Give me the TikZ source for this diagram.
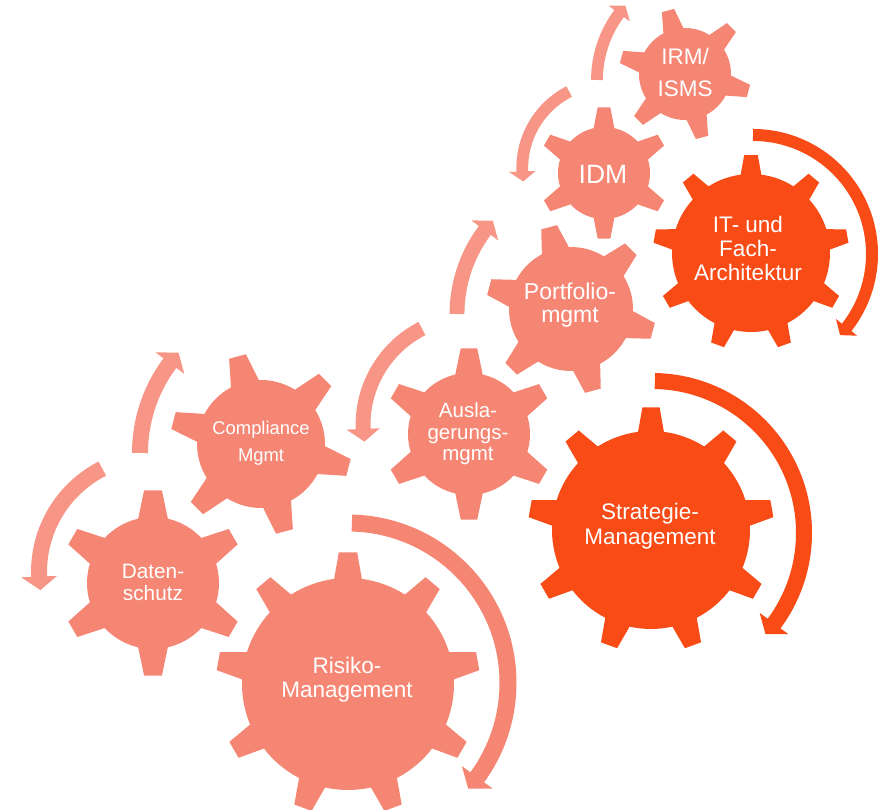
\documentclass[tikz,border=0pt]{standalone}
\usepackage{fontspec}
\setmainfont{Liberation Sans}
\definecolor{salmon}{RGB}{246,134,116}
\definecolor{arrowpink}{RGB}{247,150,134}
\definecolor{deeporange}{RGB}{248,75,22}

% gear: cx, cy, body radius, tip radius, teeth, first tooth angle, tip half-angle, base half-angle, colour
\newcommand{\gearshape}[9]{%
  \begin{scope}[shift={(#1,#2)}]
    \pgfmathsetmacro{\gstep}{360/#5}
    \pgfmathtruncatemacro{\glast}{#5-1}
    \fill[#9] ({#6-#8}:#3pt)
      \foreach \k in {0,...,\glast}{
        -- ({#6+\k*\gstep-#7}:#4pt) -- ({#6+\k*\gstep+#7}:#4pt) -- ({#6+\k*\gstep+#8}:#3pt)
        arc[start angle={#6+\k*\gstep+#8}, end angle={#6+(\k+1)*\gstep-#8}, radius=#3pt]
      } -- cycle;
  \end{scope}}

% circular arrow: cx, cy, radius, start angle, tip angle, band width, colour
\newcommand{\ringarrow}[7]{%
  \begin{scope}[shift={(#1,#2)}]
    \pgfmathsetmacro{\rdA}{0.85*#6/#3*180/pi*sign(#4-#5)}
    \pgfmathsetmacro{\rbase}{#5+\rdA}
    \pgfmathsetmacro{\rband}{#5+0.7*\rdA}
    \pgfmathsetmacro{\rin}{#3-1.12*#6}
    \pgfmathsetmacro{\rout}{#3+1.12*#6}
    \draw[#7, line width=#6pt] (#4:#3pt) arc[start angle=#4, end angle=\rband, radius=#3pt];
    \fill[#7] (\rbase:\rin pt) -- (#5:#3pt) -- (\rbase:\rout pt) -- cycle;
  \end{scope}}

% pair of light arrows: reference point (start of upward arrow), scale
\newcommand{\lightpair}[3]{%
  \pgfmathsetmacro{\lpUx}{#1+150*#3}
  \pgfmathsetmacro{\lpUr}{150*#3}
  \pgfmathsetmacro{\lpDx}{#1+15*#3}
  \pgfmathsetmacro{\lpDy}{#2-119*#3}
  \pgfmathsetmacro{\lpDr}{116*#3}
  \pgfmathsetmacro{\lpW}{16*#3}
  \ringarrow{\lpUx}{#2}{\lpUr}{180}{138}{\lpW}{arrowpink}
  \ringarrow{\lpDx}{\lpDy}{\lpDr}{117}{189}{\lpW}{arrowpink}}

\tikzset{lbl/.style={text=white, align=center, inner sep=0pt}}

\begin{document}
\begin{tikzpicture}[x=1pt,y=1pt]
\useasboundingbox (0,0) rectangle (879,810);

% gears
\gearshape{153}{227}{66}{93}{6}{90}{5.5}{13}{salmon}
\gearshape{261}{366}{64}{91}{6}{45}{5.5}{13}{salmon}
\gearshape{348}{126}{106}{132}{9}{90}{4}{7.5}{salmon}
\gearshape{469}{376}{61}{86}{6}{90}{5.5}{13}{salmon}
\gearshape{571}{501}{62}{85}{6}{45}{5.5}{13}{salmon}
\gearshape{651}{280}{99}{123}{9}{90}{4}{7.5}{deeporange}
\gearshape{604}{637}{46}{66}{6}{90}{5.5}{13}{salmon}
\gearshape{685}{736}{46}{66}{6}{45}{5.5}{13}{salmon}
\gearshape{751}{557}{79}{98}{9}{90}{4}{7.5}{deeporange}

% large arrows
\ringarrow{348}{127}{160}{88.6}{-41.3}{17}{salmon}
\ringarrow{652}{277}{152}{88.9}{-41.7}{16}{deeporange}
\ringarrow{753}{556}{119}{90}{-43}{12}{deeporange}

% light arrow pairs
\lightpair{140}{357}{1}
\lightpair{457}{496}{0.93}
\lightpair{597}{730}{0.74}

% labels
\node[lbl, font=\fontsize{20.8}{22}\selectfont] (daten) at (153,228) {Daten-\\schutz};
\node[lbl, font=\fontsize{18.4}{27}\selectfont] (compliance) at (261,366.5) {Compliance\\Mgmt};
\node[lbl, font=\fontsize{22.5}{24}\selectfont] (risiko) at (347,130) {Risiko-\\Management};
\node[lbl, font=\fontsize{20.5}{21.5}\selectfont] (ausl) at (468,376) {Ausla-\\gerungs-\\mgmt};
\node[lbl, font=\fontsize{23}{23}\selectfont] (portfolio) at (570,505) {Portfolio-\\mgmt};
\node[lbl, font=\fontsize{22.5}{25}\selectfont] (strategie) at (650,284) {Strategie-\\Management};
\node[lbl, font=\fontsize{26.5}{28}\selectfont] (idm) at (603,636) {IDM};
\node[lbl, font=\fontsize{22.5}{32}\selectfont] (irm) at (685,738) {IRM/\\ISMS};
\node[lbl, font=\fontsize{22.5}{24}\selectfont] (itarch) at (748,562) {IT- und\\Fach-\\Architektur};
\end{tikzpicture}
\end{document}
